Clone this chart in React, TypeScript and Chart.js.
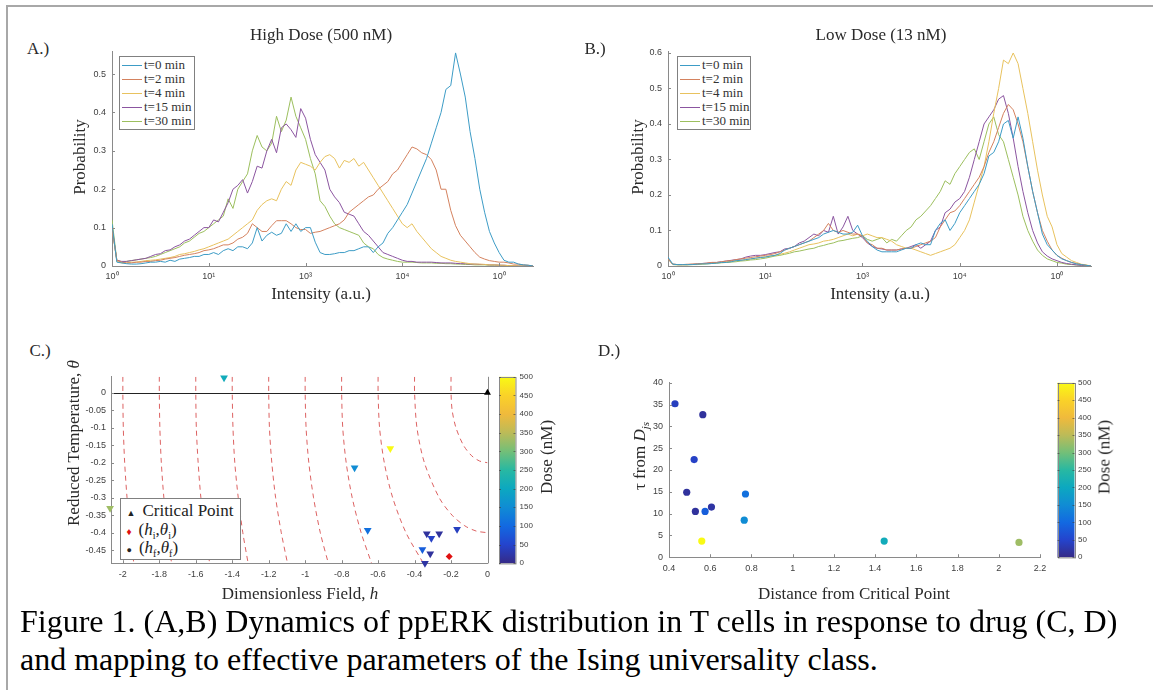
import React, { useEffect, useRef } from "react";
import { Chart, registerables } from "chart.js";
Chart.register(...registerables);

// ---------- Panels A & B: histograms on log10 intensity (decades) ----------
const logBins = [
  0, 0.05, 0.1, 0.15, 0.2, 0.25, 0.3, 0.35, 0.4, 0.45,
  0.5, 0.55, 0.6, 0.65, 0.7, 0.75, 0.8, 0.85, 0.9, 0.95,
  1.0, 1.05, 1.1, 1.15, 1.2, 1.25, 1.3, 1.35, 1.4, 1.45,
  1.5, 1.55, 1.6, 1.65, 1.7, 1.75, 1.8, 1.85, 1.9, 1.95,
  2.0, 2.05, 2.1, 2.15, 2.2, 2.25, 2.3, 2.35, 2.4, 2.45,
  2.5, 2.55, 2.6, 2.65, 2.7, 2.75, 2.8, 2.85, 2.9, 2.95,
  3.0, 3.05, 3.1, 3.15, 3.2, 3.25, 3.3, 3.35, 3.4, 3.45,
  3.5, 3.55, 3.6, 3.65, 3.7, 3.75, 3.8, 3.85, 3.9, 3.95,
  4.0, 4.05, 4.1, 4.15, 4.2, 4.25, 4.3, 4.35,
];
const seriesLabels = ["t=0 min", "t=2 min", "t=4 min", "t=15 min", "t=30 min"];
const seriesColors = ["#3d9cc6", "#d4825f", "#e8c25e", "#8b55a0", "#9cbf5e"];

const highT0 = [
  0.11, 0.01, 0.008, 0.006, 0.005, 0.005, 0.006, 0.008, 0.01, 0.01,
  0.012, 0.01, 0.015, 0.012, 0.018, 0.02, 0.022, 0.025, 0.025, 0.03,
  0.03, 0.035, 0.03, 0.04, 0.045, 0.04, 0.05, 0.05, 0.045, 0.06,
  0.1, 0.065, 0.08, 0.088, 0.08, 0.085, 0.11, 0.09, 0.11, 0.09,
  0.1, 0.1, 0.062, 0.035, 0.03, 0.03, 0.032, 0.035, 0.035, 0.04,
  0.04, 0.045, 0.05, 0.05, 0.035, 0.05, 0.06, 0.085, 0.1, 0.12,
  0.14, 0.16, 0.19, 0.22, 0.25, 0.28, 0.32, 0.36, 0.4, 0.46,
  0.47, 0.555, 0.5, 0.44, 0.35, 0.28, 0.2, 0.14, 0.09, 0.06,
  0.035, 0.015, 0.01, 0.01, 0.005, 0.003, 0.002, 0,
];
const highT2 = [
  0.1, 0.015, 0.01, 0.008, 0.008, 0.01, 0.01, 0.012, 0.012, 0.014,
  0.015, 0.018, 0.02, 0.022, 0.025, 0.028, 0.03, 0.032, 0.035, 0.04,
  0.042, 0.045, 0.05, 0.055, 0.055, 0.06, 0.07, 0.075, 0.085, 0.11,
  0.1, 0.09, 0.09, 0.105, 0.118, 0.118, 0.118, 0.11, 0.1, 0.095,
  0.095, 0.085, 0.088, 0.09, 0.095, 0.1, 0.105, 0.11, 0.12, 0.14,
  0.15, 0.16, 0.17, 0.18, 0.185, 0.2, 0.21, 0.22, 0.24, 0.25,
  0.27, 0.29, 0.31, 0.305, 0.295, 0.29, 0.277, 0.25, 0.2, 0.2,
  0.145, 0.105, 0.08, 0.065, 0.05, 0.035, 0.023, 0.018, 0.014, 0.012,
  0.01, 0.01, 0.008, 0.005, 0.005, 0.003, 0.002, 0,
];
const highT4 = [
  0.1, 0.012, 0.008, 0.008, 0.01, 0.01, 0.012, 0.014, 0.015, 0.016,
  0.018, 0.02, 0.022, 0.025, 0.03, 0.032, 0.035, 0.038, 0.042, 0.045,
  0.05, 0.055, 0.06, 0.065, 0.07, 0.08, 0.09, 0.1, 0.11, 0.12,
  0.145, 0.16, 0.17, 0.175, 0.17, 0.2, 0.22, 0.21, 0.25, 0.27,
  0.265, 0.26, 0.25, 0.27, 0.285, 0.29, 0.28, 0.255, 0.275, 0.27,
  0.28, 0.26, 0.27, 0.25, 0.23, 0.21, 0.19, 0.17, 0.15, 0.13,
  0.11, 0.1, 0.11, 0.09, 0.075, 0.06, 0.045, 0.035, 0.025, 0.02,
  0.015, 0.012, 0.01, 0.008, 0.006, 0.005, 0.005, 0.004, 0.003, 0.003,
  0.002, 0.002, 0.001, 0.001, 0, 0, 0, 0,
];
const highT15 = [
  0.1, 0.015, 0.012, 0.012, 0.014, 0.016, 0.018, 0.02, 0.025, 0.03,
  0.032, 0.04, 0.042, 0.05, 0.055, 0.065, 0.07, 0.08, 0.09, 0.1,
  0.1, 0.12, 0.115, 0.14, 0.165, 0.2, 0.21, 0.225, 0.19, 0.22,
  0.26, 0.255, 0.3, 0.33, 0.295, 0.36, 0.37, 0.355, 0.335, 0.41,
  0.385, 0.33, 0.29, 0.27, 0.25, 0.2, 0.18, 0.165, 0.14, 0.135,
  0.13, 0.11, 0.09, 0.08, 0.065, 0.05, 0.035, 0.03, 0.025, 0.02,
  0.015, 0.012, 0.012, 0.01, 0.01, 0.01, 0.01, 0.009, 0.008, 0.008,
  0.008, 0.007, 0.006, 0.006, 0.005, 0.005, 0.004, 0.004, 0.003, 0.003,
  0.002, 0.002, 0.001, 0.001, 0, 0, 0, 0,
];
const highT30 = [
  0.12, 0.015, 0.01, 0.012, 0.014, 0.016, 0.018, 0.02, 0.022, 0.025,
  0.03, 0.035, 0.04, 0.045, 0.05, 0.06, 0.065, 0.075, 0.085, 0.09,
  0.1, 0.11, 0.12, 0.13, 0.175, 0.15, 0.2, 0.22, 0.24, 0.3,
  0.34, 0.31, 0.3, 0.32, 0.39, 0.35, 0.38, 0.44, 0.39, 0.36,
  0.33, 0.28, 0.24, 0.17, 0.155, 0.13, 0.11, 0.1, 0.095, 0.09,
  0.085, 0.08, 0.06, 0.05, 0.045, 0.03, 0.022, 0.018, 0.015, 0.012,
  0.01, 0.01, 0.01, 0.009, 0.008, 0.008, 0.008, 0.007, 0.007, 0.006,
  0.006, 0.005, 0.005, 0.004, 0.004, 0.003, 0.003, 0.003, 0.002, 0.002,
  0.002, 0.001, 0.001, 0, 0, 0, 0, 0,
];

const lowT0 = [
  0.025, 0.005, 0.004, 0.004, 0.004, 0.004, 0.005, 0.006, 0.006, 0.007,
  0.008, 0.01, 0.01, 0.012, 0.015, 0.016, 0.018, 0.02, 0.022, 0.024,
  0.025, 0.028, 0.03, 0.035, 0.045, 0.05, 0.055, 0.06, 0.065, 0.07,
  0.075, 0.08, 0.09, 0.095, 0.1, 0.095, 0.09, 0.09, 0.095, 0.115,
  0.085, 0.07, 0.055, 0.045, 0.04, 0.04, 0.04, 0.04, 0.045, 0.05,
  0.05, 0.06, 0.065, 0.06, 0.06, 0.1, 0.12, 0.13, 0.1, 0.12,
  0.15, 0.17, 0.19, 0.21, 0.23, 0.26, 0.31, 0.32, 0.35, 0.4,
  0.41, 0.36, 0.42, 0.36, 0.28, 0.21, 0.15, 0.09, 0.06, 0.045,
  0.03, 0.02, 0.015, 0.01, 0.006, 0.004, 0.002, 0,
];
const lowT2 = [
  0.02, 0.005, 0.004, 0.004, 0.005, 0.005, 0.006, 0.007, 0.008, 0.01,
  0.01, 0.012, 0.014, 0.015, 0.018, 0.02, 0.022, 0.024, 0.026, 0.028,
  0.03, 0.032, 0.035, 0.04, 0.045, 0.05, 0.055, 0.06, 0.065, 0.07,
  0.08, 0.09, 0.1, 0.12, 0.1, 0.095, 0.1, 0.095, 0.09, 0.09,
  0.085, 0.065, 0.06, 0.05, 0.05, 0.045, 0.045, 0.045, 0.048, 0.05,
  0.05, 0.055, 0.06, 0.065, 0.07, 0.08, 0.11, 0.13, 0.15, 0.155,
  0.17, 0.19, 0.21, 0.23, 0.25, 0.28, 0.32, 0.35, 0.39, 0.43,
  0.455, 0.44, 0.4, 0.35, 0.28, 0.21, 0.15, 0.1, 0.07, 0.045,
  0.03, 0.022, 0.015, 0.01, 0.007, 0.004, 0.002, 0,
];
const lowT4 = [
  0.02, 0.005, 0.004, 0.004, 0.004, 0.005, 0.005, 0.006, 0.007, 0.008,
  0.009, 0.01, 0.012, 0.013, 0.015, 0.016, 0.018, 0.02, 0.022, 0.024,
  0.026, 0.028, 0.03, 0.033, 0.036, 0.04, 0.045, 0.05, 0.055, 0.06,
  0.062, 0.065, 0.07, 0.072, 0.075, 0.08, 0.085, 0.09, 0.085, 0.09,
  0.085, 0.09, 0.085, 0.08, 0.08, 0.075, 0.07, 0.06, 0.055, 0.05,
  0.05, 0.045, 0.04, 0.035, 0.03, 0.035, 0.04, 0.045, 0.05, 0.06,
  0.08, 0.1, 0.13, 0.18, 0.23, 0.28, 0.35, 0.43, 0.5, 0.58,
  0.57, 0.6, 0.57, 0.5, 0.43, 0.35, 0.27, 0.2, 0.14, 0.11,
  0.06, 0.035, 0.025, 0.015, 0.01, 0.005, 0.003, 0,
];
const lowT15 = [
  0.02, 0.005, 0.004, 0.004, 0.004, 0.005, 0.006, 0.007, 0.008, 0.01,
  0.01, 0.012, 0.014, 0.016, 0.018, 0.02, 0.025, 0.028, 0.03, 0.03,
  0.032, 0.035, 0.038, 0.04, 0.048, 0.05, 0.055, 0.065, 0.07, 0.08,
  0.09, 0.085, 0.1, 0.095, 0.14, 0.09, 0.11, 0.14, 0.1, 0.09,
  0.08, 0.065, 0.055, 0.05, 0.048, 0.045, 0.045, 0.045, 0.048, 0.05,
  0.055, 0.06, 0.05, 0.06, 0.07, 0.1, 0.11, 0.15, 0.16, 0.18,
  0.19, 0.21, 0.25, 0.3, 0.35, 0.4, 0.42, 0.44, 0.47, 0.48,
  0.43, 0.36, 0.28, 0.21, 0.15, 0.1, 0.065, 0.04, 0.028, 0.02,
  0.015, 0.01, 0.007, 0.005, 0.003, 0.002, 0.001, 0,
];
const lowT30 = [
  0.02, 0.004, 0.003, 0.003, 0.003, 0.004, 0.004, 0.005, 0.006, 0.007,
  0.008, 0.009, 0.01, 0.011, 0.012, 0.014, 0.015, 0.017, 0.018, 0.02,
  0.022, 0.025, 0.028, 0.03, 0.033, 0.036, 0.04, 0.042, 0.045, 0.048,
  0.05, 0.055, 0.058, 0.062, 0.065, 0.07, 0.072, 0.075, 0.078, 0.08,
  0.085, 0.075, 0.07, 0.075, 0.08, 0.065, 0.075, 0.07, 0.085, 0.1,
  0.11, 0.13, 0.14, 0.155, 0.17, 0.19, 0.21, 0.24, 0.23, 0.26,
  0.28, 0.3, 0.32, 0.33, 0.3, 0.35, 0.4, 0.42, 0.37, 0.35,
  0.3, 0.25, 0.2, 0.14, 0.1, 0.07, 0.045, 0.03, 0.02, 0.015,
  0.01, 0.008, 0.005, 0.004, 0.003, 0.002, 0.001, 0,
];
const highDoseSeries = [highT0, highT2, highT4, highT15, highT30];
const lowDoseSeries = [lowT0, lowT2, lowT4, lowT15, lowT30];

const decadeTicks = [0, 1, 2, 3, 4];
const decadeLabels = ["10\u2070", "10\u00b9", "10\u00b3", "10\u2074", "10\u2070"];
const probTicksA = [0, 0.1, 0.2, 0.3, 0.4, 0.5];
const probTicksB = [0, 0.1, 0.2, 0.3, 0.4, 0.5, 0.6];

// ---------- Panel C: phase diagram ----------
const fieldTicks = [-2, -1.8, -1.6, -1.4, -1.2, -1, -0.8, -0.6, -0.4, -0.2, 0];
const thetaTicks = [0, -0.05, -0.1, -0.15, -0.2, -0.25, -0.3, -0.35, -0.4, -0.45];
const doseTicks = [0, 50, 100, 150, 200, 250, 300, 350, 400, 450, 500];

const finalH = [-1.445, -0.533, -0.729, -0.657, -2.07, -0.333, -0.308, -0.265, -0.167, -0.357, -0.314, -0.343];
const finalTheta = [0.043, -0.159, -0.214, -0.393, -0.33, -0.403, -0.416, -0.403, -0.39, -0.448, -0.46, -0.487];
const finalDose = [210, 500, 150, 110, 330, 15, 45, 15, 40, 85, 15, 20];
const initialH = [-0.21];
const initialTheta = [-0.468];
const criticalH = [0];
const criticalTheta = [0];

const contourTheta = [0.0455, 0, -0.1, -0.2, -0.3, -0.4, -0.487];
const contourH20 = [-2, -2, -1.9975, -1.99, -1.977, -1.96, -1.94];
const contourH18 = [-1.8, -1.8, -1.797, -1.789, -1.775, -1.755, -1.733];
const contourH16 = [-1.6, -1.6, -1.597, -1.587, -1.572, -1.549, -1.524];
const contourH14 = [-1.4, -1.4, -1.396, -1.386, -1.367, -1.342, -1.313];
const contourH12 = [-1.2, -1.2, -1.196, -1.183, -1.162, -1.131, -1.097];
const contourH10 = [-1.0, -1.0, -0.995, -0.98, -0.954, -0.917, -0.873];
const contourH08 = [-0.8, -0.8, -0.794, -0.775, -0.742, -0.693, -0.636];
const contourH06 = [-0.6, -0.6, -0.592, -0.566, -0.52, -0.447, -0.352];
const contourTheta04 = [0.0455, 0, -0.1, -0.2, -0.3, -0.35, -0.38, -0.395, -0.4];
const contourH04 = [-0.4, -0.4, -0.387, -0.346, -0.265, -0.194, -0.125, -0.063, 0];
const contourTheta02 = [0.0455, 0, -0.05, -0.1, -0.15, -0.18, -0.195, -0.2];
const contourH02 = [-0.2, -0.2, -0.194, -0.173, -0.132, -0.087, -0.044, 0];

// ---------- Panel D: relaxation time vs distance ----------
const distTicks = [0.4, 0.6, 0.8, 1, 1.2, 1.4, 1.6, 1.8, 2, 2.2];
const tauTicks = [0, 5, 10, 15, 20, 25, 30, 35, 40];
const distance = [0.429, 0.564, 0.522, 0.486, 0.528, 0.575, 0.606, 0.771, 0.765, 0.559, 1.444, 2.098];
const tau = [35.2, 32.7, 22.4, 14.9, 10.5, 10.5, 11.5, 14.5, 8.5, 3.7, 3.7, 3.4];
const distDose = [40, 15, 45, 15, 15, 85, 20, 110, 150, 500, 210, 330];

// parula-like colormap stops: [t, r, g, b]
const parulaStops: number[][] = [
  [0.0, 53, 42, 135],
  [0.1, 36, 68, 205],
  [0.2, 18, 105, 225],
  [0.3, 16, 140, 212],
  [0.4, 12, 168, 192],
  [0.5, 40, 184, 162],
  [0.6, 115, 191, 120],
  [0.7, 188, 187, 88],
  [0.8, 240, 186, 60],
  [0.9, 250, 210, 40],
  [1.0, 249, 250, 20],
];
function parula(t: number) {
  const v = Math.max(0, Math.min(1, t));
  for (let i = 1; i < parulaStops.length; i++) {
    const a = parulaStops[i - 1], b = parulaStops[i];
    if (v <= b[0]) {
      const f = (v - a[0]) / (b[0] - a[0]);
      const c = [1, 2, 3].map((k) => Math.round(a[k] + (b[k] - a[k]) * f));
      return `rgb(${c[0]},${c[1]},${c[2]})`;
    }
  }
  return "rgb(249,250,20)";
}

const TICK_FONT = { family: '"Liberation Sans", Arial, sans-serif', size: 9 };
const TICK_COLOR = "#404040";
const AXIS_COLOR = "#8a8a8a";

const innerTicks = {
  id: "innerTicks",
  afterDraw(chart: any, _args: any, opts: any) {
    const { ctx, chartArea } = chart;
    ctx.save();
    ctx.strokeStyle = AXIS_COLOR;
    ctx.lineWidth = 1;
    for (const id of opts.axes || []) {
      const s = chart.scales[id];
      s.ticks.forEach((t: any) => {
        const p = Math.round(s.getPixelForValue(t.value)) + 0.5;
        ctx.beginPath();
        if (s.isHorizontal()) {
          ctx.moveTo(p, chartArea.bottom);
          ctx.lineTo(p, chartArea.bottom - 3);
        } else {
          ctx.moveTo(chartArea.left, p);
          ctx.lineTo(chartArea.left + 3, p);
        }
        ctx.stroke();
      });
    }
    ctx.restore();
  },
};

const colorBar = {
  id: "colorBar",
  afterDraw(chart: any, _args: any, opts: any) {
    if (!opts || !opts.axis) return;
    const { ctx } = chart;
    const s = chart.scales[opts.axis];
    const x0 = s.left + opts.offset;
    const w = opts.barWidth;
    const yTop = s.getPixelForValue(s.max);
    const yBot = s.getPixelForValue(s.min);
    const g = ctx.createLinearGradient(0, yBot, 0, yTop);
    parulaStops.forEach((st) => g.addColorStop(st[0], `rgb(${st[1]},${st[2]},${st[3]})`));
    ctx.save();
    ctx.fillStyle = g;
    ctx.fillRect(x0, yTop, w, yBot - yTop);
    ctx.strokeStyle = "#8a8a8a";
    ctx.lineWidth = 1;
    ctx.strokeRect(Math.round(x0) + 0.5, Math.round(yTop) + 0.5, w, yBot - yTop);
    ctx.strokeStyle = "rgba(60,60,60,0.6)";
    s.ticks.forEach((t: any) => {
      const p = Math.round(s.getPixelForValue(t.value)) + 0.5;
      ctx.beginPath();
      ctx.moveTo(x0 + w, p);
      ctx.lineTo(x0 + w - 2, p);
      ctx.moveTo(x0, p);
      ctx.lineTo(x0 + 2, p);
      ctx.stroke();
    });
    ctx.restore();
  },
};

const phaseLines = {
  id: "phaseLines",
  beforeDatasetsDraw(chart: any, _args: any, opts: any) {
    if (!opts || !opts.enabled) return;
    const { ctx, chartArea, scales } = chart;
    ctx.save();
    ctx.strokeStyle = AXIS_COLOR;
    ctx.lineWidth = 1;
    ctx.beginPath();
    ctx.moveTo(Math.round(chartArea.right) + 0.5, chartArea.top);
    ctx.lineTo(Math.round(chartArea.right) + 0.5, chartArea.bottom);
    ctx.stroke();
    const y0 = Math.round(scales.y.getPixelForValue(0)) + 0.5;
    ctx.strokeStyle = "#222";
    ctx.beginPath();
    ctx.moveTo(chartArea.left, y0);
    ctx.lineTo(chartArea.right, y0);
    ctx.stroke();
    ctx.restore();
  },
};

function fixedAxis(size: number, horizontal: boolean) {
  return (scale: any) => {
    if (horizontal) scale.height = size;
    else scale.width = size;
  };
}
function setTicks(values: number[]) {
  return (scale: any) => {
    scale.ticks = values.map((v) => ({ value: v }));
  };
}
const fmt = (v: number) => String(+Number(v).toFixed(2));

type Box = { L: number; T: number; W: number; H: number; l: number; t: number; r: number; b: number };

function histConfig(series: number[][], yMax: number, yTicks: number[], box: Box) {
  return {
    type: "line",
    data: {
      datasets: series.map((vals, i) => ({
        label: seriesLabels[i],
        data: logBins.map((x, j) => ({ x, y: vals[j] })),
        borderColor: seriesColors[i],
        borderWidth: 1,
        pointRadius: 0,
        tension: 0,
        fill: false,
      })),
    },
    options: {
      animation: false,
      responsive: false,
      devicePixelRatio: 1,
      layout: { padding: { left: 0, top: box.t - box.T, right: box.L + box.W - box.r, bottom: 0 } },
      plugins: { legend: { display: false }, tooltip: { enabled: false }, innerTicks: { axes: ["x", "y"] } },
      scales: {
        x: {
          type: "linear",
          min: 0,
          max: 4.35,
          grid: { display: false, drawTicks: false },
          border: { display: true, color: AXIS_COLOR, width: 1 },
          afterBuildTicks: setTicks(decadeTicks),
          afterFit: fixedAxis(box.T + box.H - box.b, true),
          ticks: {
            font: TICK_FONT,
            color: TICK_COLOR,
            padding: 5,
            maxRotation: 0,
            callback: (v: number) => decadeLabels[decadeTicks.indexOf(v)] ?? "",
          },
        },
        y: {
          type: "linear",
          min: 0,
          max: yMax,
          grid: { display: false, drawTicks: false },
          border: { display: true, color: AXIS_COLOR, width: 1 },
          afterBuildTicks: setTicks(yTicks),
          afterFit: fixedAxis(box.l - box.L, false),
          ticks: { font: TICK_FONT, color: TICK_COLOR, padding: 6, callback: (v: number) => fmt(v) },
        },
      },
    },
    plugins: [innerTicks],
  };
}

function contourSet(thetas: number[], hs: number[]) {
  return {
    type: "line",
    data: thetas.map((t, i) => ({ x: hs[i], y: t })),
    borderColor: "rgba(214,70,70,0.85)",
    borderWidth: 1,
    borderDash: [5, 4],
    pointRadius: 0,
    tension: 0.3,
    fill: false,
    order: 2,
  };
}

function phaseConfig(box: Box, cbWidth: number) {
  return {
    type: "scatter",
    data: {
      datasets: [
        {
          type: "scatter",
          data: criticalH.map((h, i) => ({ x: h, y: criticalTheta[i] })),
          pointStyle: "triangle",
          pointRadius: 4,
          backgroundColor: "#000",
          borderColor: "#000",
          borderWidth: 0,
          clip: false,
          order: 0,
        },
        {
          type: "scatter",
          data: initialH.map((h, i) => ({ x: h, y: initialTheta[i] })),
          pointStyle: "rectRot",
          pointRadius: 3.5,
          backgroundColor: "#e01010",
          borderWidth: 0,
          clip: false,
          order: 0,
        },
        {
          type: "scatter",
          data: finalH.map((h, i) => ({ x: h, y: finalTheta[i] })),
          pointStyle: "triangle",
          rotation: 180,
          pointRadius: 4.5,
          backgroundColor: finalDose.map((d) => parula(d / 500)),
          borderWidth: 0,
          clip: false,
          order: 0,
        },
        contourSet(contourTheta, contourH20),
        contourSet(contourTheta, contourH18),
        contourSet(contourTheta, contourH16),
        contourSet(contourTheta, contourH14),
        contourSet(contourTheta, contourH12),
        contourSet(contourTheta, contourH10),
        contourSet(contourTheta, contourH08),
        contourSet(contourTheta, contourH06),
        contourSet(contourTheta04, contourH04),
        contourSet(contourTheta02, contourH02),
      ],
    },
    options: {
      animation: false,
      responsive: false,
      devicePixelRatio: 1,
      layout: { padding: { left: 0, top: box.t - box.T, right: 0, bottom: 0 } },
      plugins: {
        legend: { display: false },
        tooltip: { enabled: false },
        innerTicks: { axes: ["x", "y"] },
        colorBar: { axis: "cb", offset: 11.5, barWidth: 16.5 },
        phaseLines: { enabled: true },
      },
      scales: {
        x: {
          type: "linear",
          min: -2.065,
          max: 0,
          grid: { display: false, drawTicks: false },
          border: { display: true, color: AXIS_COLOR, width: 1 },
          afterBuildTicks: setTicks(fieldTicks),
          afterFit: fixedAxis(box.T + box.H - box.b, true),
          ticks: { font: TICK_FONT, color: TICK_COLOR, padding: 6, maxRotation: 0, callback: (v: number) => fmt(v) },
        },
        y: {
          type: "linear",
          min: -0.487,
          max: 0.0455,
          grid: { display: false, drawTicks: false },
          border: { display: true, color: AXIS_COLOR, width: 1 },
          afterBuildTicks: setTicks(thetaTicks),
          afterFit: fixedAxis(box.l - box.L, false),
          ticks: { font: TICK_FONT, color: TICK_COLOR, padding: 5, callback: (v: number) => fmt(v) },
        },
        cb: {
          type: "linear",
          axis: "y",
          position: "right",
          min: 0,
          max: 500,
          grid: { display: false, drawTicks: false },
          border: { display: false },
          afterBuildTicks: setTicks(doseTicks),
          afterFit: fixedAxis(cbWidth, false),
          ticks: { font: { family: TICK_FONT.family, size: 8 }, color: TICK_COLOR, padding: 32 },
        },
      },
    },
    plugins: [innerTicks, colorBar, phaseLines],
  };
}

function tauConfig(box: Box, cbWidth: number) {
  return {
    type: "scatter",
    data: {
      datasets: [
        {
          data: distance.map((d, i) => ({ x: d, y: tau[i] })),
          pointStyle: "circle",
          pointRadius: 3.6,
          backgroundColor: distDose.map((d) => parula(d / 500)),
          borderWidth: 0,
          clip: false,
        },
      ],
    },
    options: {
      animation: false,
      responsive: false,
      devicePixelRatio: 1,
      layout: { padding: { left: 0, top: box.t - box.T, right: 0, bottom: 0 } },
      plugins: {
        legend: { display: false },
        tooltip: { enabled: false },
        innerTicks: { axes: ["x", "y"] },
        colorBar: { axis: "cb", offset: 17.5, barWidth: 17 },
      },
      scales: {
        x: {
          type: "linear",
          min: 0.4,
          max: 2.2,
          grid: { display: false, drawTicks: false },
          border: { display: true, color: AXIS_COLOR, width: 1 },
          afterBuildTicks: setTicks(distTicks),
          afterFit: fixedAxis(box.T + box.H - box.b, true),
          ticks: { font: TICK_FONT, color: TICK_COLOR, padding: 6, maxRotation: 0, callback: (v: number) => fmt(v) },
        },
        y: {
          type: "linear",
          min: 0,
          max: 40,
          grid: { display: false, drawTicks: false },
          border: { display: true, color: AXIS_COLOR, width: 1 },
          afterBuildTicks: setTicks(tauTicks),
          afterFit: fixedAxis(box.l - box.L, false),
          ticks: { font: TICK_FONT, color: TICK_COLOR, padding: 6, callback: (v: number) => fmt(v) },
        },
        cb: {
          type: "linear",
          axis: "y",
          position: "right",
          min: 0,
          max: 500,
          grid: { display: false, drawTicks: false },
          border: { display: false },
          afterBuildTicks: setTicks(doseTicks),
          afterFit: fixedAxis(cbWidth, false),
          ticks: { font: { family: TICK_FONT.family, size: 8 }, color: TICK_COLOR, padding: 38 },
        },
      },
    },
    plugins: [innerTicks, colorBar],
  };
}

function ChartCanvas({ box, make }: { box: Box; make: () => any }) {
  const ref = useRef<HTMLCanvasElement>(null);
  useEffect(() => {
    const chart = new Chart(ref.current as HTMLCanvasElement, make());
    return () => chart.destroy();
  }, []);
  return (
    <canvas
      ref={ref}
      width={box.W}
      height={box.H}
      style={{ position: "absolute", left: box.L, top: box.T, width: box.W, height: box.H }}
    />
  );
}

function Txt({ x, y, size = 17, rotate = 0, color = "#2a2a2a", children }: any) {
  return (
    <div
      style={{
        position: "absolute",
        left: x,
        top: y,
        transform: `translate(-50%,-50%) rotate(${rotate}deg)`,
        fontSize: size,
        lineHeight: 1,
        whiteSpace: "nowrap",
        color,
      }}
    >
      {children}
    </div>
  );
}

function SeriesLegend({ left, top, width, height }: any) {
  return (
    <div
      style={{
        position: "absolute",
        left,
        top,
        width,
        height,
        border: "1px solid #808080",
        background: "#fff",
        boxSizing: "border-box",
      }}
    >
      {seriesLabels.map((lab, i) => (
        <React.Fragment key={lab}>
          <div
            style={{
              position: "absolute",
              left: 2,
              top: 8 + i * 14.1,
              width: 20,
              height: 1.5,
              background: seriesColors[i],
            }}
          />
          <div
            style={{
              position: "absolute",
              left: 24,
              top: 1.5 + i * 14.1,
              height: 14,
              lineHeight: "14px",
              fontSize: 13,
              color: "#333",
              whiteSpace: "nowrap",
            }}
          >
            {lab}
          </div>
        </React.Fragment>
      ))}
    </div>
  );
}

const boxA: Box = { L: 60, T: 40, W: 490, H: 260, l: 112, t: 49, r: 533, b: 266 };
const boxB: Box = { L: 620, T: 40, W: 490, H: 260, l: 668, t: 49, r: 1091, b: 266 };
const boxC: Box = { L: 60, T: 340, W: 500, H: 260, l: 111, t: 351, r: 487.5, b: 568 };
const boxD: Box = { L: 620, T: 340, W: 500, H: 260, l: 669, t: 351, r: 1040, b: 568 };

export default function App() {
  return (
    <div
      style={{
        position: "absolute",
        left: 0,
        top: 0,
        width: 1153,
        height: 690,
        background: "#fff",
        overflow: "hidden",
        fontFamily: '"Liberation Serif", "Times New Roman", serif',
      }}
    >
      <div
        style={{
          position: "absolute",
          left: 6,
          top: 5,
          width: 1160,
          height: 700,
          borderTop: "2px solid #a8a8a8",
          borderLeft: "2px solid #a8a8a8",
        }}
      />
      <ChartCanvas box={boxA} make={() => histConfig(highDoseSeries, 0.559, probTicksA, boxA)} />
      <ChartCanvas box={boxB} make={() => histConfig(lowDoseSeries, 0.6045, probTicksB, boxB)} />
      <ChartCanvas box={boxC} make={() => phaseConfig(boxC, 560 - 487.5)} />
      <ChartCanvas box={boxD} make={() => tauConfig(boxD, 1120 - 1040)} />

      <SeriesLegend left={119} top={55.5} width={76} height={74} />
      <SeriesLegend left={677} top={55.5} width={74} height={74} />

      <div
        style={{
          position: "absolute",
          left: 119.5,
          top: 498,
          width: 121,
          height: 62,
          border: "1px solid #808080",
          background: "#fff",
          boxSizing: "border-box",
          fontSize: 17,
          color: "#222",
        }}
      >
        <div style={{ position: "absolute", left: 6, top: 2, whiteSpace: "nowrap" }}>
          <span style={{ fontSize: 9, marginRight: 7 }}>{"\u25B2"}</span>Critical Point
        </div>
        <div style={{ position: "absolute", left: 6, top: 21, whiteSpace: "nowrap" }}>
          <span style={{ fontSize: 10, marginRight: 7, color: "#e01010" }}>{"\u2666"}</span>(<i>h</i>
          <sub style={{ fontSize: 10 }}>i</sub>,<i>θ</i>
          <sub style={{ fontSize: 10 }}>i</sub>)
        </div>
        <div style={{ position: "absolute", left: 6, top: 39, whiteSpace: "nowrap" }}>
          <span style={{ fontSize: 9, marginRight: 7 }}>{"\u25CF"}</span>(<i>h</i>
          <sub style={{ fontSize: 10 }}>f</sub>,<i>θ</i>
          <sub style={{ fontSize: 10 }}>f</sub>)
        </div>
      </div>

      <Txt x={321} y={34}>High Dose (500 nM)</Txt>
      <Txt x={881} y={34}>Low Dose (13 nM)</Txt>
      <Txt x={38} y={48}>A.)</Txt>
      <Txt x={595} y={48}>B.)</Txt>
      <Txt x={40} y={350}>C.)</Txt>
      <Txt x={609} y={350}>D.)</Txt>

      <Txt x={321} y={293}>Intensity (a.u.)</Txt>
      <Txt x={880} y={293}>Intensity (a.u.)</Txt>
      <Txt x={79} y={157} rotate={-90}>Probability</Txt>
      <Txt x={637} y={157} rotate={-90}>Probability</Txt>

      <Txt x={300} y={593}>
        Dimensionless Field, <i>h</i>
      </Txt>
      <Txt x={73} y={443} rotate={-90}>
        Reduced Temperature, <i>θ</i>
      </Txt>
      <Txt x={546} y={457} rotate={-90}>Dose (nM)</Txt>

      <Txt x={854} y={593}>Distance from Critical Point</Txt>
      <Txt x={641} y={456} rotate={-90}>
        τ from <i>D</i>
        <sub style={{ fontSize: 11 }}>
          <i>js</i>
        </sub>
      </Txt>
      <Txt x={1104} y={457} rotate={-90}>Dose (nM)</Txt>

      <div style={{ position: "absolute", left: 20, top: 605, fontSize: 32, lineHeight: "32px", whiteSpace: "nowrap", color: "#000" }}>
        Figure 1. (A,B) Dynamics of ppERK distribution in T cells in response to drug (C, D)
      </div>
      <div style={{ position: "absolute", left: 20, top: 643, fontSize: 32, lineHeight: "32px", whiteSpace: "nowrap", color: "#000" }}>
        and mapping to effective parameters of the Ising universality class.
      </div>
    </div>
  );
}
